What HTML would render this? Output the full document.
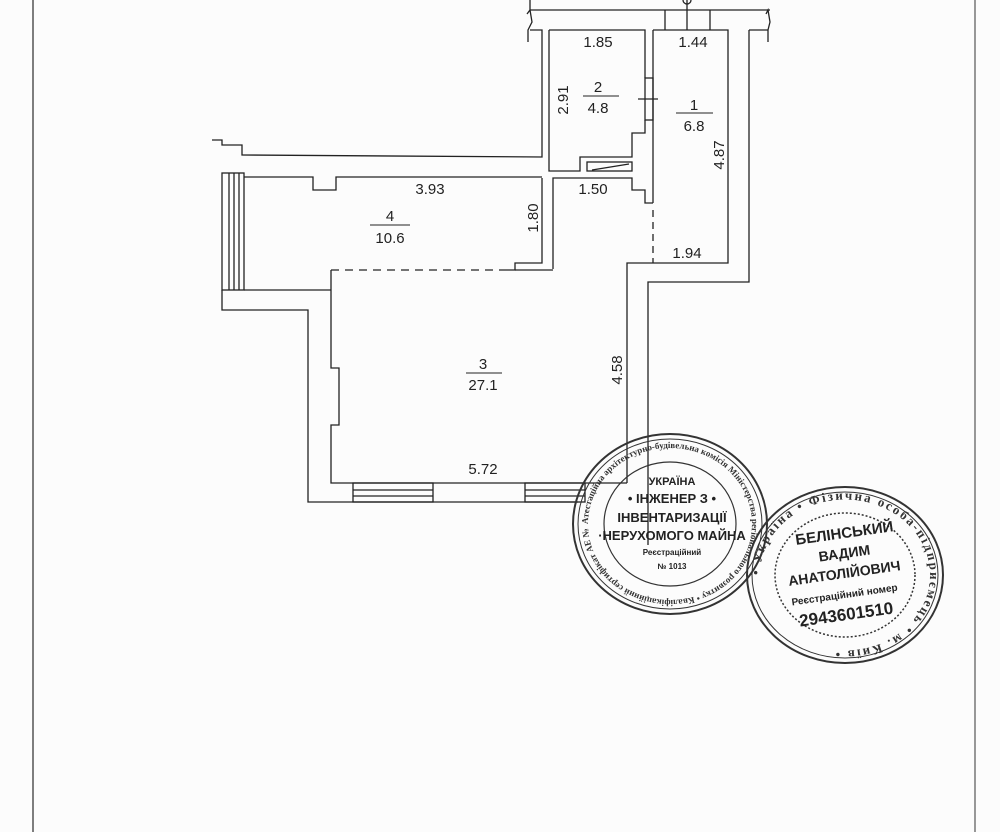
<!DOCTYPE html>
<html><head><meta charset="utf-8"><style>
html,body{margin:0;padding:0;background:#fcfcfc;}
svg{display:block}
text{font-family:"Liberation Sans",sans-serif;fill:#222}
.s{font-family:"Liberation Serif","DejaVu Serif",serif;font-weight:bold;fill:#333}
</style></head><body>
<svg width="1000" height="832" viewBox="0 0 1000 832" xmlns="http://www.w3.org/2000/svg">
<rect width="1000" height="832" fill="#fcfcfc"/>
<line x1="33" y1="0" x2="33" y2="832" stroke="#555" stroke-width="1.5"/>
<line x1="975" y1="0" x2="975" y2="832" stroke="#555" stroke-width="1.2"/>
<g fill="none" stroke="#222" stroke-width="1.3">
<!-- top -->
<line x1="530" y1="10" x2="770" y2="10"/>
<line x1="530" y1="0" x2="530" y2="10"/>
<line x1="665" y1="10" x2="665" y2="30"/>
<line x1="710" y1="10" x2="710" y2="30"/>
<line x1="687" y1="0" x2="687" y2="30"/>
<circle cx="687" cy="0" r="4"/>
<polyline points="527,14 530,10 532,22 528,30 528,42"/>
<polyline points="530,30 542,30 542,157 242,155 242,145 222,145 222,140 212,140"/>
<polyline points="766,14 768,10 770,22 768,30 768,42"/>
<!-- room 2 -->
<polyline points="549,30 645,30 645,78"/>
<polyline points="645,120 645,133 632,133 632,157 580,157 580,171 549,171 549,30"/>
<rect x="645" y="78" width="8" height="42"/>
<rect x="587" y="162" width="45" height="9"/>
<line x1="592" y1="170" x2="629" y2="164"/>
<line x1="638" y1="99" x2="658" y2="99"/>
<!-- room 1 -->
<polyline points="653,30 728,30 728,263 653,263"/>
<line x1="653" y1="30" x2="653" y2="203"/>
<line x1="653" y1="210" x2="653" y2="263" stroke-dasharray="7,5"/>
<polyline points="749,30 768,30"/>
<polyline points="749,30 749,282 648,282 648,545"/>
<polyline points="627,483 627,263 653,263"/>
<!-- corridor -->
<polyline points="553,269 553,178 632,178 632,190 645,190 645,203 653,203"/>
<!-- room 4 -->
<polyline points="542,178 542,263 515,263 515,270 505,270 505,270"/>
<line x1="331" y1="270" x2="505" y2="270" stroke-dasharray="8,6"/>
<line x1="515" y1="270" x2="553" y2="270"/>
<polyline points="542,177 336,177 336,190 313,190 313,177 244,177"/>
<rect x="222" y="173" width="22" height="117"/>
<line x1="229" y1="173" x2="229" y2="290"/>
<line x1="234" y1="173" x2="234" y2="290"/>
<line x1="239" y1="173" x2="239" y2="290"/>
<polyline points="244,290 331,290"/>
<polyline points="222,290 222,310 308,310 308,502 578,502"/>
<!-- room 3 -->
<polyline points="331,270 331,368 339,368 339,425 331,425 331,483 627,483"/>
<rect x="353" y="483" width="80" height="19"/>
<line x1="353" y1="490" x2="433" y2="490"/><line x1="353" y1="496" x2="433" y2="496"/>
<rect x="525" y="483" width="60" height="19"/>
<line x1="525" y1="490" x2="585" y2="490"/><line x1="525" y1="496" x2="585" y2="496"/>
</g>
<g font-size="15" text-anchor="middle">
<text x="598" y="47">1.85</text>
<text x="693" y="47">1.44</text>
<text x="598" y="92">2</text><line x1="583" y1="96" x2="619" y2="96" stroke="#222"/><text x="598" y="113">4.8</text>
<text x="694" y="110">1</text><line x1="676" y1="113" x2="713" y2="113" stroke="#222"/><text x="694" y="131">6.8</text>
<text x="568" y="100" transform="rotate(-90 568 100)">2.91</text>
<text x="724" y="155" transform="rotate(-90 724 155)">4.87</text>
<text x="430" y="194">3.93</text>
<text x="593" y="194">1.50</text>
<text x="390" y="221">4</text><line x1="370" y1="225" x2="410" y2="225" stroke="#222"/><text x="390" y="243">10.6</text>
<text x="538" y="218" transform="rotate(-90 538 218)">1.80</text>
<text x="687" y="258">1.94</text>
<text x="483" y="369">3</text><line x1="466" y1="373" x2="502" y2="373" stroke="#222"/><text x="483" y="390">27.1</text>
<text x="622" y="370" transform="rotate(-90 622 370)">4.58</text>
<text x="483" y="474">5.72</text>
</g>
<defs>
<path id="c1" d="M 588,524 A 82,76 0 1 1 752,524 A 82,76 0 1 1 588,524"/>
<path id="c2" d="M 760,575 A 80,71 0 1 1 930,575 A 80,71 0 1 1 760,575"/>
</defs>
<g stroke="#333" fill="none">
<ellipse cx="670" cy="524" rx="97" ry="90" stroke-width="2"/>
<ellipse cx="670" cy="524" rx="92" ry="85" stroke-width="1"/>
<ellipse cx="670" cy="524" rx="66" ry="62" stroke-width="1.2"/>
</g>
<text font-size="9" class="s"><textPath href="#c1">Атестаційна архітектурно-будівельна комісія Міністерства регіонального розвитку • Кваліфікаційний сертифікат АЕ № 001013 • БЕЛІНСЬКИЙ</textPath></text>
<g class="s" text-anchor="middle">
<text x="672" y="485" font-size="11">УКРАЇНА</text>
<text x="672" y="503" font-size="13">• ІНЖЕНЕР З •</text>
<text x="672" y="522" font-size="13">ІНВЕНТАРИЗАЦІЇ</text>
<text x="672" y="540" font-size="13">·НЕРУХОМОГО МАЙНА</text>
<text x="672" y="555" font-size="8">Реєстраційний</text>
<text x="672" y="569" font-size="8">№ 1013</text>
</g>
<g stroke="#333" fill="none">
<ellipse cx="845" cy="575" rx="98" ry="88" stroke-width="2"/>
<ellipse cx="845" cy="575" rx="93" ry="83" stroke-width="1"/>
<ellipse cx="845" cy="575" rx="70" ry="62" stroke-width="1.5" stroke-dasharray="2,2"/>
</g>
<text font-size="13" class="s" letter-spacing="2"><textPath href="#c2">• Україна • Фізична особа-підприємець • м. Київ •</textPath></text>
<g class="s" text-anchor="middle">
<text x="845" y="538" font-size="15" transform="rotate(-8 845 538)">БЕЛІНСЬКИЙ</text>
<text x="845" y="558" font-size="14" transform="rotate(-8 845 558)">ВАДИМ</text>
<text x="845" y="578" font-size="14" transform="rotate(-8 845 578)">АНАТОЛІЙОВИЧ</text>
<text x="845" y="598" font-size="10" transform="rotate(-8 845 598)">Реєстраційний номер</text>
<text x="847" y="620" font-size="17" font-family="Liberation Sans,sans-serif" transform="rotate(-8 847 620)">2943601510</text>
</g>
</svg>
</body></html>
